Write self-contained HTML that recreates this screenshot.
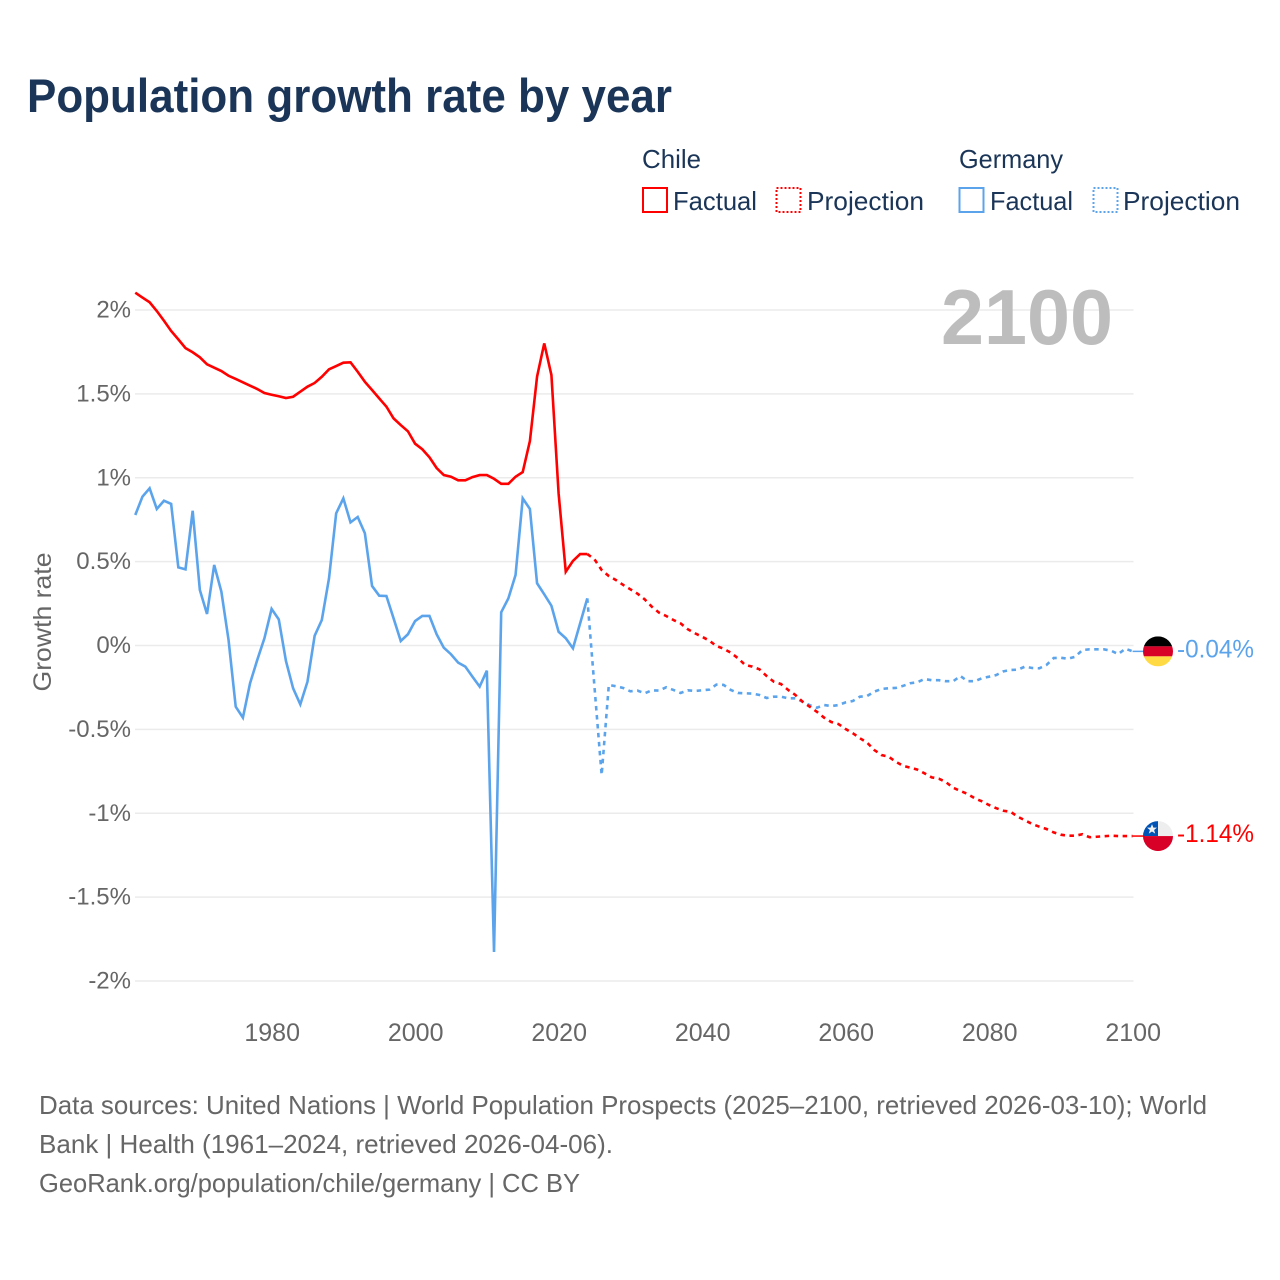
<!DOCTYPE html>
<html lang="en">
<head>
<meta charset="utf-8">
<title>Population growth rate by year</title>
<style>
  html, body { margin: 0; padding: 0; background: #fff; }
  svg { display: block; font-family: "Liberation Sans", sans-serif; }
</style>
</head>
<body>
<svg id="chart" xmlns="http://www.w3.org/2000/svg" width="1280" height="1280" viewBox="0 0 1280 1280">
  <defs>
    <clipPath id="flag-clip"><circle cx="0" cy="0" r="15"></circle></clipPath>
  </defs>
  <rect x="0" y="0" width="1280" height="1280" fill="#ffffff"></rect>
  <text x="27" y="112" font-size="47" font-weight="700" fill="#1a3557" textLength="645" lengthAdjust="spacingAndGlyphs">Population growth rate by year</text>

  <g font-size="26" fill="#1a3557">
    <text x="642" y="168" textLength="59" lengthAdjust="spacingAndGlyphs">Chile</text>
    <text x="959" y="168" textLength="104" lengthAdjust="spacingAndGlyphs">Germany</text>
    <g>
      <rect x="643" y="188" width="24" height="24" fill="none" stroke="#ff0000" stroke-width="2"></rect>
      <text x="673" y="210" textLength="84" lengthAdjust="spacingAndGlyphs">Factual</text>
    </g>
    <g>
      <rect x="776.5" y="188" width="24" height="24" fill="none" stroke="#ff0000" stroke-width="2" stroke-dasharray="2 2"></rect>
      <text x="807" y="210" textLength="117" lengthAdjust="spacingAndGlyphs">Projection</text>
    </g>
    <g>
      <rect x="959.5" y="188" width="24" height="24" fill="none" stroke="#5ba4ec" stroke-width="2"></rect>
      <text x="990" y="210" textLength="83" lengthAdjust="spacingAndGlyphs">Factual</text>
    </g>
    <g>
      <rect x="1093.5" y="188" width="24" height="24" fill="none" stroke="#5ba4ec" stroke-width="2" stroke-dasharray="2 2"></rect>
      <text x="1123" y="210" textLength="117" lengthAdjust="spacingAndGlyphs">Projection</text>
    </g>
  </g>

  <g id="grid"></g>
  <g id="y-ticks"></g>
  <g id="x-ticks"></g>
  <text transform="translate(51 622) rotate(-90)" text-anchor="middle" font-size="25" fill="#666666" textLength="139" lengthAdjust="spacingAndGlyphs">Growth rate</text>
  <text x="941" y="344" font-size="78" font-weight="700" fill="#bdbdbd" textLength="172" lengthAdjust="spacingAndGlyphs">2100</text>
  <g id="series"></g>
  <g id="end-markers"></g>

  <g font-size="26" fill="#666666">
    <text x="39" y="1114" textLength="1168" lengthAdjust="spacingAndGlyphs">Data sources: United Nations | World Population Prospects (2025–2100, retrieved 2026-03-10); World</text>
    <text x="39" y="1153" textLength="574" lengthAdjust="spacingAndGlyphs">Bank | Health (1961–2024, retrieved 2026-04-06).</text>
    <text x="39" y="1192" textLength="541" lengthAdjust="spacingAndGlyphs">GeoRank.org/population/chile/germany | CC BY</text>
  </g>
</svg>
<script>
const yTickValues = [2, 1.5, 1, 0.5, 0, -0.5, -1, -1.5, -2];
const yTickLabels = ["2%", "1.5%", "1%", "0.5%", "0%", "-0.5%", "-1%", "-1.5%", "-2%"];
const xTickYears = [1980, 2000, 2020, 2040, 2060, 2080, 2100];
const xTickLabels = ["1980", "2000", "2020", "2040", "2060", "2080", "2100"];
const factualStartYear = 1961;
const projectionStartYear = 2024;
const chileFactual = [2.103,2.074,2.046,1.994,1.936,1.875,1.825,1.773,1.748,1.718,1.676,1.656,1.636,1.608,1.589,1.569,1.549,1.529,1.505,1.495,1.486,1.475,1.483,1.513,1.543,1.565,1.602,1.646,1.666,1.686,1.688,1.632,1.572,1.523,1.473,1.424,1.354,1.314,1.277,1.203,1.170,1.122,1.058,1.016,1.006,0.985,0.985,1.004,1.016,1.016,0.994,0.964,0.964,1.006,1.034,1.219,1.603,1.801,1.612,0.907,0.440,0.504,0.545,0.545];
const germanyFactual = [0.778,0.887,0.937,0.814,0.863,0.844,0.466,0.454,0.803,0.331,0.188,0.480,0.321,0.033,-0.365,-0.430,-0.225,-0.086,0.043,0.218,0.156,-0.092,-0.255,-0.351,-0.216,0.058,0.152,0.400,0.788,0.877,0.734,0.766,0.669,0.355,0.297,0.295,0.162,0.027,0.067,0.146,0.176,0.176,0.067,-0.013,-0.052,-0.102,-0.126,-0.186,-0.245,-0.150,-1.827,0.198,0.281,0.420,0.877,0.814,0.371,0.305,0.237,0.082,0.043,-0.017,0.132,0.281];
const chileProjection = [0.545,0.514,0.450,0.414,0.390,0.361,0.335,0.309,0.275,0.231,0.196,0.176,0.152,0.132,0.097,0.073,0.052,0.029,-0.003,-0.019,-0.043,-0.076,-0.116,-0.126,-0.142,-0.182,-0.216,-0.230,-0.265,-0.295,-0.335,-0.365,-0.395,-0.430,-0.456,-0.468,-0.498,-0.523,-0.553,-0.579,-0.623,-0.653,-0.663,-0.693,-0.717,-0.728,-0.740,-0.762,-0.786,-0.794,-0.815,-0.848,-0.867,-0.885,-0.911,-0.929,-0.951,-0.970,-0.985,-0.991,-1.021,-1.042,-1.064,-1.080,-1.094,-1.114,-1.128,-1.134,-1.134,-1.125,-1.143,-1.140,-1.137,-1.134,-1.136,-1.136,-1.136];
const germanyProjection = [0.281,-0.246,-0.772,-0.235,-0.243,-0.253,-0.273,-0.269,-0.285,-0.267,-0.269,-0.249,-0.265,-0.283,-0.267,-0.271,-0.267,-0.263,-0.233,-0.235,-0.265,-0.283,-0.285,-0.287,-0.295,-0.313,-0.305,-0.305,-0.315,-0.315,-0.335,-0.356,-0.371,-0.355,-0.361,-0.355,-0.339,-0.331,-0.305,-0.301,-0.275,-0.259,-0.255,-0.253,-0.241,-0.225,-0.219,-0.200,-0.207,-0.207,-0.213,-0.213,-0.182,-0.213,-0.213,-0.195,-0.186,-0.176,-0.154,-0.146,-0.144,-0.126,-0.134,-0.136,-0.116,-0.075,-0.073,-0.079,-0.067,-0.027,-0.023,-0.023,-0.023,-0.031,-0.051,-0.019,-0.035];
const chileEndLabel = "-1.14%";
const germanyEndLabel = "-0.04%";

const NS = "http://www.w3.org/2000/svg";
const RED = "#ff0000";
const BLUE = "#5ba4ec";
function xScale(year) { return 1132.6 - (2100 - year) * 7.175; }
function yScale(value) { return 645.5 - value * 167.75; }
function make(tag, attrs, parent) {
  const el = document.createElementNS(NS, tag);
  for (const k in attrs) el.setAttribute(k, attrs[k]);
  parent.appendChild(el);
  return el;
}
function linePath(values, startYear) {
  return values.map(function (v, i) {
    return (i ? "L" : "M") + xScale(startYear + i).toFixed(2) + " " + yScale(v).toFixed(2);
  }).join(" ");
}

const gridGroup = document.getElementById("grid");
const yTickGroup = document.getElementById("y-ticks");
yTickValues.forEach(function (v, i) {
  const gridLine = make("line", { x1: 135, x2: 1133.5, y1: yScale(v), y2: yScale(v), stroke: "#ebebeb", "stroke-width": 1.6 }, gridGroup);
  
  
  const label = make("text", { x: 131, y: yScale(v) + 7.5, "text-anchor": "end", "font-size": 24, fill: "#666666" }, yTickGroup);
  
  
  label.textContent = yTickLabels[i];
});

const xTickGroup = document.getElementById("x-ticks");
xTickYears.forEach(function (year, i) {
  const label = make("text", { x: xScale(year) + 0.6, y: 1041, "text-anchor": "middle", "font-size": 25, fill: "#666666" }, xTickGroup);
  
  
  label.textContent = xTickLabels[i];
});

const seriesGroup = document.getElementById("series");
const chileFactualLine = make("path", { d: linePath(chileFactual, factualStartYear), fill: "none", stroke: RED, "stroke-width": 2.6, "stroke-linejoin": "miter" }, seriesGroup);


const germanyFactualLine = make("path", { d: linePath(germanyFactual, factualStartYear), fill: "none", stroke: BLUE, "stroke-width": 2.6, "stroke-linejoin": "miter" }, seriesGroup);


const germanyProjectionLine = make("path", { d: linePath(germanyProjection, projectionStartYear), fill: "none", stroke: BLUE, "stroke-width": 2.6, "stroke-dasharray": "4.5 4.5" }, seriesGroup);


const chileProjectionLine = make("path", { d: linePath(chileProjection, projectionStartYear), fill: "none", stroke: RED, "stroke-width": 2.6, "stroke-dasharray": "4.5 4.5" }, seriesGroup);



const markerGroup = document.getElementById("end-markers");
const endX = xScale(2100);
const germanyY = yScale(germanyProjection[germanyProjection.length - 1]);
const chileY = yScale(chileProjection[chileProjection.length - 1]);

const germanyConnector = make("line", { x1: endX, x2: 1145, y1: germanyY, y2: germanyY, stroke: BLUE, "stroke-width": 1.5 }, markerGroup);


const chileConnector = make("line", { x1: endX, x2: 1145, y1: chileY, y2: chileY, stroke: RED, "stroke-width": 1.5 }, markerGroup);



const germanyFlag = make("g", { transform: "translate(1158 " + germanyY + ")", "clip-path": "url(#flag-clip)" }, markerGroup);


make("rect", { x: -15, y: -15, width: 30, height: 10, fill: "#000000" }, germanyFlag);
make("rect", { x: -15, y: -5, width: 30, height: 10, fill: "#d80027" }, germanyFlag);
make("rect", { x: -15, y: 5, width: 30, height: 10, fill: "#ffda44" }, germanyFlag);

const chileFlag = make("g", { transform: "translate(1158 " + chileY + ")", "clip-path": "url(#flag-clip)" }, markerGroup);


make("rect", { x: 0, y: -15, width: 15, height: 15, fill: "#eeeeee" }, chileFlag);
make("rect", { x: -15, y: -15, width: 15, height: 15, fill: "#0052b4" }, chileFlag);
make("rect", { x: -15, y: 0, width: 30, height: 15, fill: "#d80027" }, chileFlag);
make("polygon", { points: "-6,-12 -4.6,-8.4 -1,-8.4 -3.9,-6.1 -2.8,-2.5 -6,-4.6 -9.2,-2.5 -8.1,-6.1 -11,-8.4 -7.4,-8.4", fill: "#f0f0f0" }, chileFlag);

const germanyLabel = make("text", { x: 1177, y: germanyY + 6, "font-size": 25, fill: BLUE, textLength: 77, lengthAdjust: "spacingAndGlyphs" }, markerGroup);


germanyLabel.textContent = germanyEndLabel;
const chileLabel = make("text", { x: 1177, y: chileY + 6, "font-size": 25, fill: RED, textLength: 77, lengthAdjust: "spacingAndGlyphs" }, markerGroup);


chileLabel.textContent = chileEndLabel;
</script>
</body>
</html>
